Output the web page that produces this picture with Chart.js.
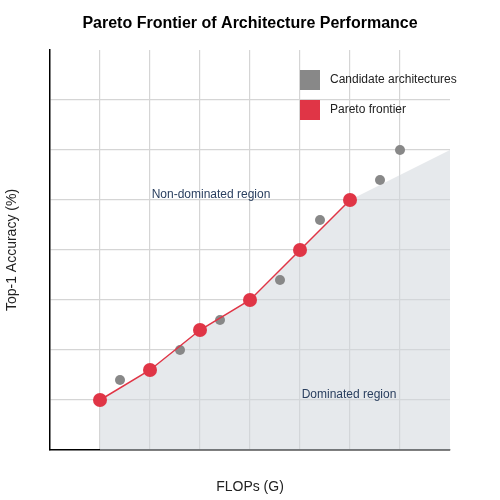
<!DOCTYPE html>
<html><head><script src="https://cdn.jsdelivr.net/npm/chart.js@4"></script>
<style>body{margin:0}#c{width:500px;height:500px}</style></head>
<body><div id="c"><canvas id="cv" width="500" height="500"></canvas></div>
<script>
const frontierX=[1,2,3,4,5,6];
const frontierY=[1,1.6,2.4,3,4,5];
const candX=[1.4,2.6,3.4,4.6,5.4,6.6,7];
const candY=[1.4,2,2.6,3.4,4.6,5.4,6];
const regionX=[1,2,3,4,5,6,8];
const regionY=[1,1.6,2.4,3,4,5,6];
const pts=(xs,ys)=>xs.map((x,i)=>({x,y:ys[i]}));
const red='#e03546', gray='#888888';
const deco={id:'deco',afterDraw(c){const g=c.ctx,xs=c.scales.x,ys=c.scales.y;g.save();
g.fillStyle='#000';g.font='bold 16px "Liberation Sans",Arial';g.textAlign='center';g.textBaseline='middle';
g.fillText('Pareto Frontier of Architecture Performance',250,24);
g.fillStyle='#2a3f5f';g.font='12px "Liberation Sans",Arial';
g.fillText('Non-dominated region',xs.getPixelForValue(3.22),ys.getPixelForValue(5.1));
g.fillText('Dominated region',xs.getPixelForValue(5.98),ys.getPixelForValue(1.1));
g.textAlign='left';g.fillStyle='#222';
g.fillStyle=gray;g.fillRect(300,70,20,20);g.fillStyle=red;g.fillRect(300,100,20,20);
g.fillStyle='#222';g.fillText('Candidate architectures',330,80);g.fillText('Pareto frontier',330,110);
g.restore();}};
const gridOpt={color:c=>(c.tick.value<=0||c.tick.value>=8)?'rgba(0,0,0,0)':'#d5d5d5',lineWidth:1.2,borderDash:[5,4],drawTicks:false};
new Chart(document.getElementById('cv'),{type:'scatter',
data:{datasets:[
{type:'line',data:pts(regionX,regionY),fill:'origin',backgroundColor:'rgba(210,215,220,0.55)',borderWidth:0,pointRadius:0,order:3},
{data:pts(candX,candY),backgroundColor:gray,pointRadius:5,borderWidth:0,order:2},
{type:'line',data:pts(frontierX,frontierY),borderColor:red,borderWidth:1.5,backgroundColor:red,pointRadius:7,pointBorderWidth:0,fill:false,order:1}
]},
options:{responsive:false,animation:false,layout:{padding:{top:50,right:50,left:0,bottom:0}},
plugins:{legend:{display:false},tooltip:{enabled:false}},
scales:{
x:{type:'linear',min:0,max:8,ticks:{display:false,stepSize:1},grid:gridOpt,border:{color:'#000',width:1.5},
 title:{display:true,text:'FLOPs (G)',color:'#222',font:{size:14,family:'"Liberation Sans",Arial'}},afterFit(s){s.height=50}},
y:{min:0,max:8,ticks:{display:false,stepSize:1},grid:gridOpt,border:{color:'#000',width:1.5},
 title:{display:true,text:'Top-1 Accuracy (%)',color:'#222',font:{size:14,family:'"Liberation Sans",Arial'}},afterFit(s){s.width=50}}
}},plugins:[deco]});
</script></body></html>
